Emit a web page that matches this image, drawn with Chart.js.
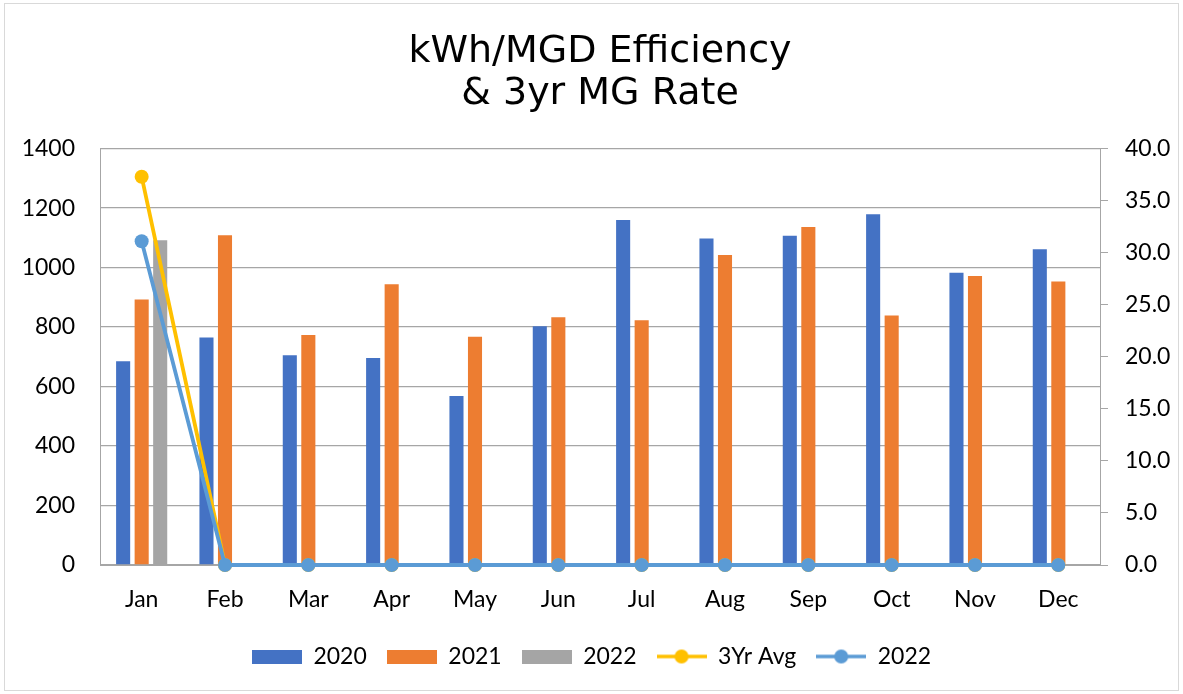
<!DOCTYPE html>
<html>
<head>
<meta charset="utf-8">
<script src="https://cdn.jsdelivr.net/npm/chart.js@4/dist/chart.umd.min.js"></script>
<style>
  html, body { margin: 0; padding: 0; background: #fff; }
  #wrap { width: 1183px; height: 694px; position: relative; }
</style>
</head>
<body>
<div id="wrap"><canvas id="c" width="1183" height="694"></canvas></div>
<script>
const months = ['Jan','Feb','Mar','Apr','May','Jun','Jul','Aug','Sep','Oct','Nov','Dec'];
const kwh2020 = [685, 765, 705, 696, 568, 803, 1160, 1098, 1107, 1179, 983, 1062];
const kwh2021 = [893, 1109, 773, 944, 767, 833, 823, 1042, 1136, 839, 972, 953];
const kwh2022 = [1092, null, null, null, null, null, null, null, null, null, null, null];
const avg3yr = [37.3, 0, 0, 0, 0, 0, 0, 0, 0, 0, 0, 0];
const rate2022 = [31.1, 0, 0, 0, 0, 0, 0, 0, 0, 0, 0, 0];
const leftTicks = [0, 200, 400, 600, 800, 1000, 1200, 1400];
const rightTicks = [0, 5, 10, 15, 20, 25, 30, 35, 40];

const C2020 = '#4472C4', C2021 = '#ED7D31', C2022 = '#A5A5A5', CAVG = '#FFC000', CLINE = '#5B9BD5';
const GRID = '#a6a6a6';

function boxIcon(color) {
  const c = document.createElement('canvas');
  c.width = 50; c.height = 14;
  const x = c.getContext('2d');
  x.fillStyle = color; x.fillRect(0, 0, 50, 14);
  return c;
}
function lineIcon(color) {
  const c = document.createElement('canvas');
  c.width = 50; c.height = 16;
  const x = c.getContext('2d');
  x.strokeStyle = color; x.lineWidth = 3.5;
  x.beginPath(); x.moveTo(0, 8); x.lineTo(50, 8); x.stroke();
  x.fillStyle = color; x.beginPath(); x.arc(25, 8, 7, 0, Math.PI * 2); x.fill();
  return c;
}
const icons = [boxIcon(C2020), boxIcon(C2021), boxIcon(C2022), lineIcon(CAVG), lineIcon(CLINE)];

const frame = {
  id: 'frame',
  beforeDraw(chart) {
    const ctx = chart.ctx;
    ctx.save();
    ctx.fillStyle = '#fff';
    ctx.fillRect(0, 0, chart.width, chart.height);
    ctx.strokeStyle = '#d9d9d9';
    ctx.lineWidth = 1;
    ctx.strokeRect(4.5, 3.5, chart.width - 9, chart.height - 7);
    ctx.restore();
  }
};

const FONT = 'Lato';
new Chart(document.getElementById('c'), {
  type: 'bar',
  data: {
    labels: months,
    datasets: [
      { type: 'bar', label: '2020', data: kwh2020, backgroundColor: C2020, yAxisID: 'y', order: 3 },
      { type: 'bar', label: '2021', data: kwh2021, backgroundColor: C2021, yAxisID: 'y', order: 4 },
      { type: 'bar', label: '2022', data: kwh2022, backgroundColor: C2022, yAxisID: 'y', order: 5 },
      { type: 'line', label: '3Yr Avg', data: avg3yr, borderColor: CAVG, backgroundColor: CAVG, clip: false,
        borderWidth: 3.8, pointRadius: 7, pointHoverRadius: 7, pointBorderWidth: 0, yAxisID: 'y1', order: 2 },
      { type: 'line', label: '2022', data: rate2022, borderColor: CLINE, backgroundColor: CLINE, clip: false,
        borderWidth: 3.8, pointRadius: 7, pointHoverRadius: 7, pointBorderWidth: 0, yAxisID: 'y1', order: 1 }
    ]
  },
  options: {
    responsive: false,
    animation: false,
    datasets: { bar: { categoryPercentage: 0.667, barPercentage: 0.76 } },
    layout: { padding: { left: 0, right: 0, top: 0, bottom: 16 } },
    plugins: {
      tooltip: { enabled: false },
      title: {
        display: true,
        fullSize: false,
        text: ['kWh/MGD Efficiency', '& 3yr MG Rate'],
        color: '#000',
        font: { family: 'DejaVu Sans', size: 38, weight: 'normal', lineHeight: 1.1 },
        padding: { top: 31, bottom: 34 }
      },
      legend: {
        position: 'bottom',
        labels: {
          usePointStyle: true,
          pointStyleWidth: 50,
          padding: 20,
          color: '#000',
          font: { family: FONT, size: 23 },
          sort: (a, b) => a.datasetIndex - b.datasetIndex,
          generateLabels: (chart) => chart.data.datasets.map((ds, i) => ({
            text: ds.label, pointStyle: icons[i], fillStyle: ds.backgroundColor,
            strokeStyle: ds.backgroundColor, lineWidth: 0, hidden: false, datasetIndex: i, fontColor: '#000'
          }))
        }
      }
    },
    scales: {
      x: {
        grid: { display: false, drawTicks: false },
        border: { display: true, color: GRID, width: 1 },
        ticks: { color: '#000', font: { family: FONT, size: 23 }, padding: 21 },
        afterFit: (s) => { s.height = 60; }
      },
      y: {
        position: 'left',
        min: 0, max: 1400,
        afterBuildTicks: (s) => { s.ticks = leftTicks.map(v => ({ value: v })); },
        grid: { color: GRID, lineWidth: 1.3, drawTicks: false },
        border: { display: true, color: GRID, width: 1 },
        ticks: { color: '#000', font: { family: FONT, size: 23 }, padding: 25,
                 callback: (v) => String(v) },
        afterFit: (s) => { s.width = 100; }
      },
      y1: {
        position: 'right',
        min: 0, max: 40,
        afterBuildTicks: (s) => { s.ticks = rightTicks.map(v => ({ value: v })); },
        grid: { drawOnChartArea: false, drawTicks: true, tickLength: 8, color: GRID },
        border: { display: true, color: GRID, width: 1 },
        ticks: { color: '#000', font: { family: FONT, size: 23 }, padding: 17,
                 callback: (v) => Number(v).toFixed(1) },
        afterFit: (s) => { s.width = 83; }
      }
    }
  },
  plugins: [frame]
});
</script>
</body>
</html>
